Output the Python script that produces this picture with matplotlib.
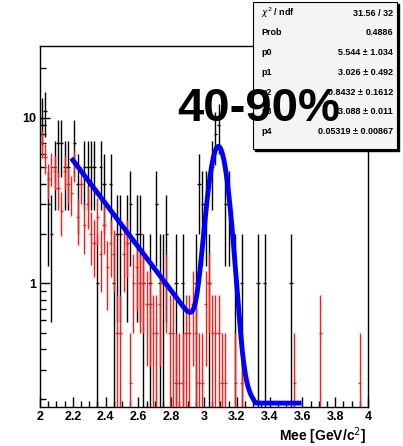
import numpy as np
import matplotlib.pyplot as plt
from matplotlib.patches import Rectangle
from matplotlib.ticker import MultipleLocator, FixedLocator, NullFormatter

plt.rcParams['font.family'] = ['Liberation Sans', 'DejaVu Sans']

# bin centres (0.02 GeV bins between 2 and 4 GeV)
mee = np.round(np.arange(2.01, 4.0, 0.02), 3)

# black histogram, counts per bin (error = sqrt(N))
black_counts = [10, 11, 3, 2, 5, 7, 7, 5, 5, 0,
                7, 4, 0, 5, 5, 5, 5, 1, 5, 4,
                0, 4, 1, 2, 2, 0, 2, 3, 0, 2,
                2, 1, 0, 1, 0, 3, 1, 1, 2, 0,
                0, 1, 0, 1, 0, 0, 0, 1, 4, 3,
                3, 1, 5, 8, 9, 0, 3, 3, 0, 1,
                0, 1, 0, 0, 0, 0, 1, 0, 1, 0,
                0, 0, 0, 0, 0, 0, 1, 0, 0, 0,
                0, 0, 0, 0, 0, 0, 0, 0, 0, 0,
                0, 0, 0, 0, 0, 0, 0, 0, 0, 0]

# red histogram, counts per bin, filled with weight 0.25
red_counts = [28, 23, 17, 20, 19, 15, 11, 19, 16, 14,
              21, 10, 16, 9, 12, 8, 7, 10, 6, 9,
              5, 7, 6, 2, 2, 6, 7, 1, 4, 5,
              4, 4, 3, 3, 2, 2, 3, 0, 4, 2,
              2, 1, 1, 1, 2, 2, 3, 2, 1, 1,
              3, 4, 2, 2, 2, 1, 1, 0, 0, 1,
              0, 1, 0, 0, 0, 0, 0, 0, 0, 0,
              0, 0, 0, 0, 0, 0, 0, 1, 0, 0,
              0, 0, 0, 0, 0, 2, 0, 0, 0, 0,
              0, 0, 0, 0, 0, 0, 0, 1, 0, 0]
red_weight = 0.25

# fit: exponential background + gaussian (p2 = area)
fit_p = [5.544, 3.026, 0.8432, 3.088, 0.05319]
fit_lo, fit_hi = 2.2, 3.58

stats_names = ["$\\chi^2$ / ndf", "Prob", "p0", "p1", "p2", "p3", "p4"]
stats_values = ["31.56 / 32", "0.4886", "5.544 \u00b1 1.034", "3.026 \u00b1 0.492",
                "0.8432 \u00b1 0.1612", "3.088 \u00b1 0.011", "0.05319 \u00b1 0.00867"]

W, H = 403, 446
fig = plt.figure(figsize=(W / 100, H / 100), dpi=100)
ax = fig.add_axes([40 / W, 1 - 407 / H, 328 / W, 361 / H])

bw = 0.02

# black points
b = np.array(black_counts, float)
m = b > 0
yb = b[m]
eb = np.sqrt(yb)
ax.errorbar(mee[m], yb, xerr=bw / 2, yerr=[np.minimum(eb, yb - 1e-4), eb],
            fmt='none', ecolor='black', elinewidth=1.0, capsize=0, zorder=2)

# red points
r = np.array(red_counts, float)
m = r > 0
yr = r[m] * red_weight
er = np.sqrt(r[m]) * red_weight
ax.errorbar(mee[m], yr, xerr=bw / 2, yerr=[np.minimum(er, yr - 1e-4), er],
            fmt='none', ecolor='#ff1a1a', elinewidth=1.0, capsize=0, zorder=3)

# fit curve
p0, p1, p2, p3, p4 = fit_p
xf = np.linspace(fit_lo, fit_hi, 500)
yf = p0 * np.exp(-p1 * (xf - 2.2)) + p2 / (np.sqrt(2 * np.pi) * p4) * np.exp(-(xf - p3) ** 2 / (2 * p4 ** 2))
ax.plot(xf, np.maximum(yf, 0.19), color='#0000ff', lw=3.5, zorder=4)

ax.set_xlim(2, 4)
ax.set_yscale('log')
ax.set_ylim(0.18, 27)

ax.set_xticks(np.arange(2, 4.01, 0.2))
ax.set_xticklabels([f"{v:g}" for v in np.round(np.arange(2, 4.01, 0.2), 1)])
ax.xaxis.set_minor_locator(MultipleLocator(0.05))
ax.set_yticks([1, 10])
ax.set_yticklabels(['1', '10'])
ax.yaxis.set_minor_locator(FixedLocator([0.2, 0.3, 0.4, 0.5, 0.6, 0.7, 0.8, 0.9,
                                         2, 3, 4, 5, 6, 7, 8, 9, 20]))
ax.yaxis.set_minor_formatter(NullFormatter())
ax.tick_params(which='both', direction='in', top=False, right=False, width=1)
ax.tick_params(which='major', length=7, labelsize=9, pad=3)
ax.tick_params(which='minor', length=4)
for lbl in ax.get_xticklabels() + ax.get_yticklabels():
    lbl.set_fontweight('bold')
for s in ax.spines.values():
    s.set_linewidth(1)

fig.text(366 / W, 1 - 441 / H, "Mee [GeV/c$^{2}$]", ha='right', va='baseline',
         fontsize=10, fontweight='bold')

# stats box
bx, by, bwid, bht = 253, 2, 144, 147
fig.patches.append(Rectangle(((bx + 2) / W, 1 - (by + bht + 2) / H), bwid / W, bht / H,
                             transform=fig.transFigure, facecolor='black', edgecolor='black',
                             zorder=5))
fig.patches.append(Rectangle((bx / W, 1 - (by + bht) / H), bwid / W, bht / H,
                             transform=fig.transFigure, facecolor='#f4f4f4', edgecolor='black',
                             lw=0.8, zorder=6))
for i, (nm, val) in enumerate(zip(stats_names, stats_values)):
    yy = 1 - (13 + 19.8 * i) / H
    fig.text(261 / W, yy, nm, ha='left', va='center', fontsize=6.5, fontweight='bold', zorder=7)
    fig.text(393 / W, yy, val, ha='right', va='center', fontsize=6.5, fontweight='bold', zorder=7)

# the big centrality label sits over the stats box, as in the original
fig.text(177 / W, 1 - 121 / H, "40-90%", ha='left', va='baseline',
         fontsize=34, fontweight='bold', zorder=8)

fig.savefig("out.png", dpi=100)
